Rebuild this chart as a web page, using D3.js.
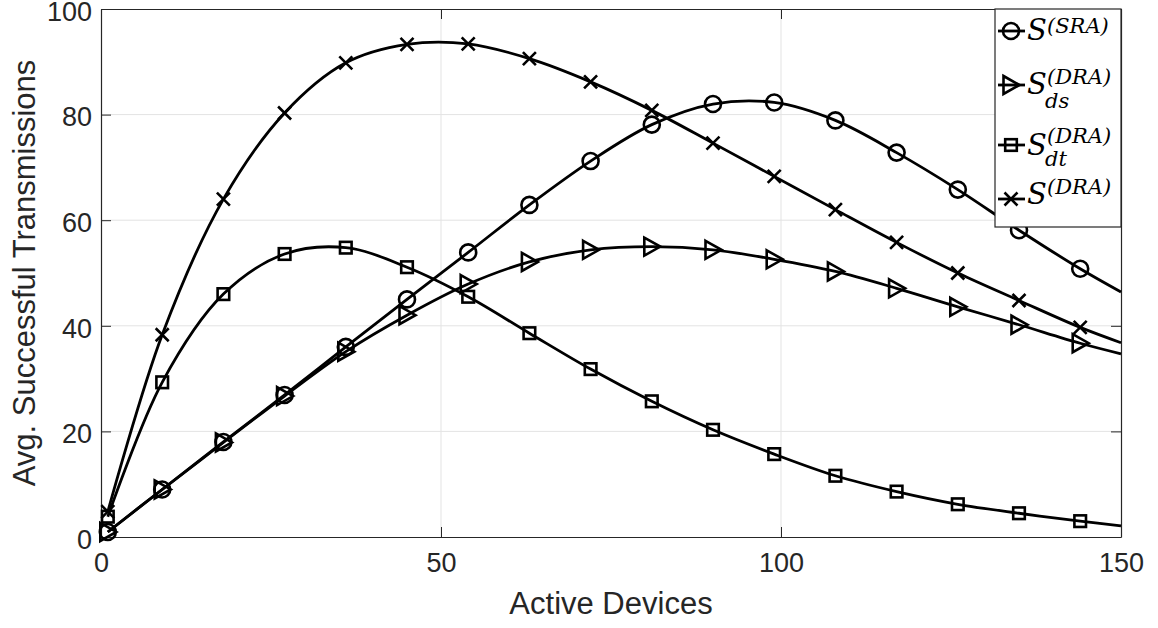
<!DOCTYPE html>
<html>
<head>
<meta charset="utf-8">
<script src="https://cdn.jsdelivr.net/npm/d3@7"></script>
<style>
  html, body { margin: 0; padding: 0; background: #fff; }
  svg { display: block; }
</style>
</head>
<body>
<svg id="chart" width="1158" height="628"></svg>
<script>
// Number of active devices at which each curve is sampled (last entry ends the line, no marker)
const devices = [1, 9, 18, 27, 36, 45, 54, 63, 72, 81, 90, 99, 108, 117, 126, 135, 144, 150];
const markerCount = 17;

// Average successful transmissions per scheme
const sSRA  = [0.95, 9.0, 18.0, 26.9, 36.0, 45.0, 53.9, 62.9, 71.2, 78.1, 82.0, 82.3, 78.9, 72.8, 65.8, 58.1, 50.8, 46.4];
const sDsDRA = [0.95, 9.0, 17.9, 26.7, 35.1, 42.0, 47.9, 52.1, 54.4, 55.0, 54.4, 52.6, 50.3, 47.1, 43.6, 40.2, 36.7, 34.7];
const sDtDRA = [3.85, 29.3, 46.0, 53.6, 54.8, 51.1, 45.5, 38.6, 31.8, 25.7, 20.3, 15.7, 11.6, 8.6, 6.2, 4.5, 3.0, 2.1];
const sDRA  = [4.8, 38.3, 64.0, 80.3, 89.8, 93.3, 93.4, 90.6, 86.2, 80.8, 74.6, 68.3, 62.0, 55.8, 50.0, 44.8, 39.7, 36.8];

const xTicks = [0, 50, 100, 150];
const yTicks = [0, 20, 40, 60, 80, 100];

const series = [
  { values: sSRA,   marker: "circle",   sup: "(SRA)", sub: null },
  { values: sDsDRA, marker: "triangle", sup: "(DRA)", sub: "ds" },
  { values: sDtDRA, marker: "square",   sup: "(DRA)", sub: "dt" },
  { values: sDRA,   marker: "cross",    sup: "(DRA)", sub: null }
];

const svg = d3.select("#chart");
const L = 101, R = 1121, T = 9, B = 537;
const axisColor = "#262626";
const sansFont = "'Liberation Sans', Arial, Helvetica, sans-serif";

const x = d3.scaleLinear().domain([0, 150]).range([L, R]);
const y = d3.scaleLinear().domain([0, 100]).range([B, T]);

// grid
const grid = svg.append("g").attr("stroke", "#e3e3e3").attr("stroke-width", 1);
grid.selectAll(".gx").data(xTicks.slice(1, -1)).join("line")
  .attr("x1", d => x(d)).attr("x2", d => x(d)).attr("y1", T).attr("y2", B);
grid.selectAll(".gy").data(yTicks.slice(1, -1)).join("line")
  .attr("x1", L).attr("x2", R).attr("y1", d => y(d)).attr("y2", d => y(d));

// axes, ticks inside the box on all four sides
function styleAxis(g, showLabels) {
  g.selectAll("path.domain").attr("stroke", axisColor).attr("stroke-width", 1.2);
  g.selectAll(".tick line").attr("stroke", axisColor).attr("stroke-width", 1);
  g.selectAll(".tick text")
    .attr("fill", axisColor)
    .style("font-family", sansFont)
    .style("font-size", "27px")
    .style("display", showLabels ? null : "none");
}
svg.append("g").attr("transform", `translate(0,${B})`)
  .call(d3.axisBottom(x).tickValues(xTicks).tickSizeInner(-10).tickSizeOuter(0).tickPadding(16))
  .call(g => styleAxis(g, true));
svg.append("g").attr("transform", `translate(0,${T})`)
  .call(d3.axisTop(x).tickValues(xTicks).tickSizeInner(-10).tickSizeOuter(0))
  .call(g => styleAxis(g, false));
svg.append("g").attr("transform", `translate(${L},0)`)
  .call(d3.axisLeft(y).tickValues(yTicks).tickSizeInner(-10).tickSizeOuter(0).tickPadding(9))
  .call(g => styleAxis(g, true))
  .call(g => g.selectAll(".tick text").attr("dy", "0.42em"));
svg.append("g").attr("transform", `translate(${R},0)`)
  .call(d3.axisRight(y).tickValues(yTicks).tickSizeInner(-10).tickSizeOuter(0))
  .call(g => styleAxis(g, false));

// axis titles
svg.append("text")
  .attr("x", (L + R) / 2).attr("y", 614)
  .attr("text-anchor", "middle")
  .attr("fill", axisColor)
  .style("font-family", sansFont).style("font-size", "31px")
  .text("Active Devices");
svg.append("text")
  .attr("transform", `translate(35,${(T + B) / 2}) rotate(-90)`)
  .attr("text-anchor", "middle")
  .attr("fill", axisColor)
  .style("font-family", sansFont).style("font-size", "31px")
  .text("Avg. Successful Transmissions");

// marker shapes
function drawMarker(g, type) {
  const common = sel => sel.attr("fill", "none").attr("stroke", "#000").attr("stroke-width", 2.6);
  if (type === "circle") g.append("circle").attr("r", 8).call(common);
  else if (type === "square") g.append("rect").attr("x", -5.8).attr("y", -5.8).attr("width", 11.6).attr("height", 11.6).call(common);
  else if (type === "triangle") g.append("path").attr("d", "M-7.5,-9L8.5,0L-7.5,9Z").call(common);
  else if (type === "cross") g.append("path").attr("d", "M-6.5,-6.5L6.5,6.5M-6.5,6.5L6.5,-6.5").call(common);
}

const line = d3.line()
  .x((d, i) => x(devices[i]))
  .y(d => y(d))
  .curve(d3.curveCatmullRom.alpha(0.5));

const plot = svg.append("g");
series.forEach(s => {
  plot.append("path")
    .attr("d", line(s.values))
    .attr("fill", "none")
    .attr("stroke", "#000")
    .attr("stroke-width", 2.8)
    .attr("stroke-linejoin", "round");
});
series.forEach(s => {
  s.values.slice(0, markerCount).forEach((v, i) => {
    const g = plot.append("g").attr("transform", `translate(${x(devices[i])},${y(v)})`);
    drawMarker(g, s.marker);
  });
});

// legend
const lg = svg.append("g");
lg.append("rect")
  .attr("x", 995).attr("y", T).attr("width", R - 995).attr("height", 218)
  .attr("fill", "#fff").attr("stroke", axisColor).attr("stroke-width", 1.2);

const serif = "'DejaVu Serif', 'Liberation Serif', serif";
const entryY = [31, 85, 145, 199];
const baseY = [40, 94, 155, 204];
const supY = [33, 84, 143, 194];
const subY = [null, 108, 166, null];
series.forEach((s, i) => {
  lg.append("line")
    .attr("x1", 998).attr("x2", 1025).attr("y1", entryY[i]).attr("y2", entryY[i])
    .attr("stroke", "#000").attr("stroke-width", 2.8);
  drawMarker(lg.append("g").attr("transform", `translate(1011,${entryY[i]})`), s.marker);
  lg.append("text")
    .attr("x", 1027).attr("y", baseY[i])
    .style("font-family", serif).style("font-style", "italic").style("font-size", "29px")
    .text("S");
  lg.append("text")
    .attr("x", 1047).attr("y", supY[i])
    .style("font-family", serif).style("font-style", "italic").style("font-size", "21px")
    .text(s.sup);
  if (s.sub) {
    lg.append("text")
      .attr("x", 1045).attr("y", subY[i])
      .style("font-family", serif).style("font-style", "italic").style("font-size", "21px")
      .text(s.sub);
  }
});
</script>
</body>
</html>
